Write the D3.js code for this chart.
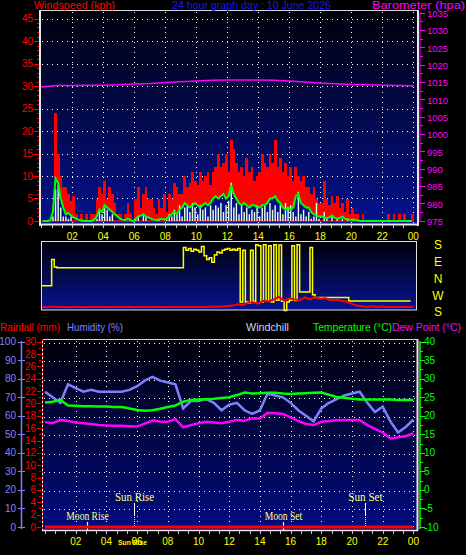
<!DOCTYPE html>
<html><head><meta charset="utf-8">
<script src="https://cdn.jsdelivr.net/npm/d3@7"></script>
<style>body{margin:0;background:#000;}svg{display:block;}</style>
</head><body>
<svg id="c" width="466" height="555"></svg>
<script>
// ---------------- DATA ----------------
// Wind, 10-minute intervals from 00:00 (144 values, kph)
const windGust = [0,0,0,0,3.5,24,15,10,7.5,7.5, 6,4.5,5.5,1.5,0,1.5,0,1.5,0,1.5, 1.5,5,7.5,6,9,5,7.5,6,4,1.5, 1.5,0,1.5,4,1.5,0,5,7.5,3,6, 7.5,5,5,3,1.5,5,3,6,2,6, 5,8.5,7.5,6,6,10,7.5,8.5,11,9, 8,11,9,10,11,8,11,12,15,12, 13,15,11,18,16,13,11,12,10,14, 11,12,9,10,11,15,13,12,15,13, 18,12,14,11,13,10,12,9,12,10, 9,10,7.5,7.5,6,7.5,5,4,4,9, 5,3.5,5.5,4,5.5,3,4,2,5,1.5, 3,1.5,1.5,0,1.5,0,0,0,0,0, 0,0,0,0,1.5,0,1.5,0,1.5,0, 1.5,0,0,1.5];
const windSpeed = [0,0,0,0,1,7,8,3,1,1, 0.5,1,0,0,0,0,0,0,0,0, 0,0.5,2.5,1.5,3,2.5,1,1.5,0,0, 0,0,0,0,0,0,0.5,1,0,1.5, 1,0,0,0,0,0.5,0,0,0.5,1.5, 1,2.5,1.5,3.5,1,3,3.5,2,4,3, 1.5,3.5,2.5,3,1,3.5,2.5,3.5,3,4, 2,3.5,4.5,8.5,3,4,1.5,3.5,2,3, 1.5,2.5,2,3.5,1,3,3.5,2,4,2.5, 3.5,2,3.5,1.5,4,3,3.5,2,1,6.5, 1.5,2.5,1,2,0.5,1,4,0.5,0,2, 0.5,0,1,0,0.5,0,0.5,0,0.5,0, 0.5,0,0,0,0,0,0,0,0,0, 0,0,0,0,0,0,0,0,0,0, 0,0,0,0];
const windAvg = [0,0,0,0.2,2,9.5,8.5,5,3,1.5, 1.8,1.2,0.8,0.5,0.3,0.1,0,0,0,0, 0.3,1,2.5,2,3.5,3,2.5,2,1.5,1, 0.5,0.3,0.2,0.5,0.2,0,0.5,1,1.2,1.5, 1,0.8,0.5,0.3,0.2,0.3,0.5,0.3,0.5,1, 1.5,2,1.5,2.5,3,4,3.5,3,3.5,4, 3.5,3,3.5,4,3.5,4,5,5.5,5,5.5, 6,5,5.5,8,6,5,4,3.5,4,3.5, 3,3.5,3.5,3,3,3.5,3.5,4,5,5, 5.5,4.5,4,3,2.5,3,2.5,3,5.5,6, 4,3.5,3,3,2,1.5,1.2,1,1,0.8, 0.6,0.8,1.2,0.7,0.5,0.6,1,0.5,0.4,0.3, 0.3,0.2,0.1,0,0,0,0,0,0,0, 0,0,0,0,0,0,0,0,0,0, 0,0,0,0];
// Wind direction, degrees, 10-minute intervals
const windDir = [318,318,318,318,100,60,56,56,56,56, 56,56,56,56,56,56,56,56,56,56, 56,56,56,56,56,56,56,56,56,56, 56,56,56,56,56,56,56,56,56,56, 56,56,56,56,56,56,56,56,56,56, 56,56,56,56,56,165,150,160,145,155, 150,140,170,120,100,110,85,125,140,135, 150,155,160,150,155,150,160,230,150,230, 225,150,235,180,175,230,180,235,175,230, 180,240,178,235,185,230,240,175,238,180, 285,285,285,285,165,270,255,255,255,255, 255,255,255,255,255,255,255,255,255,236, 236,236,236,236,236,236,236,236,236,236, 236,236,236,236,236,236,236,236,236,236, 236,236,236,236];
// Red trace of the direction panel, 20-minute intervals
const dirPanelRed = [1.5,1.2,1.8,1.4,1.6,1.3,1.5,1.7,1.3,1.5, 1.4,1.6,1.5,1.3,1.7,1.4,1.5,1.6,1.3,1.5, 1.7,1.4,1.6,1.5,1.3,1.6,1.5,1.4,1.7,1.5, 1.4,1.6,1.5,1.8,1.6,1.9,2.2,2.5,3.5,3, 4.5,5,4,6,5.5,7,9,6,8,7, 6.5,8.5,7,9,7.5,8,6.5,7,6,5.5, 4,2.5,2,1.5,2,1.5,1.8,1.4,1.6,1.5, 1.7,1.5,1.6];
// Barometer, hourly (hPa)
const baro = [1013.6,1014.0,1014.0,1014.1,1014.1,1014.2,1014.4,1014.6,1014.9,1015.1,1015.3,1015.5,1015.6,1015.6,1015.6,1015.5,1015.3,1015.0,1014.7,1014.5,1014.3,1014.2,1014.1,1014.0,1013.9];
// Half-hourly series (49 values, 00:00 .. 24:00)
const humidity = [73,70,67,77,75,73,74,73,73,73, 73,74,76,79,81,79,78,77,64,68, 68,69,67,63,66,67,63,61,63,72, 71,70,67,63,60,57,64,67,69,71, 72,73,67,62,65,57,51,54,58];
const temperature = [23.6,23.8,24.3,22.8,22.7,22.6,22.6,22.5,22.5,22.4, 22.4,22.0,21.6,21.4,21.5,21.9,22.4,22.8,23.8,24.3, 24.4,24.5,24.6,24.8,25.0,25.6,26.3,26.0,26.1,26.2, 26.2,26.0,25.9,26.0,26.1,26.2,26.3,25.7,25.1,24.9, 24.6,24.4,24.4,24.4,24.4,24.4,24.3,24.3,24.3];
const dewPoint = [18.3,18.0,18.9,18.6,18.2,18.0,17.8,17.5,17.4,17.3, 17.3,17.2,17.1,17.9,18.7,18.5,18.4,19.1,16.9,17.5, 18.0,18.4,18.2,18.0,18.4,18.9,18.7,19.3,19.3,20.8, 20.7,20.5,19.6,18.6,17.8,17.5,18.4,18.6,18.8,18.9, 18.9,18.9,17.5,16.5,15.5,13.9,14.2,14.5,15.3];
const rainfall = [0,0,0,0,0,0,0,0,0,0,0,0,0,0,0,0,0,0,0,0,0,0,0,0,0];
// Axis tick values / labels
const hourLabels = ["02","04","06","08","10","12","14","16","18","20","22","00"];
const windTicks = [0,5,10,15,20,25,30,35,40,45];
const baroTicks = [975,980,985,990,995,1000,1005,1010,1015,1020,1025,1030,1035];
const dirLabels = ["S","E","N","W","S"];
const humTicks = [0,10,20,30,40,50,60,70,80,90,100];
const rainTicks = [0,2,4,6,8,10,12,14,16,18,20,22,24,26,28,30];
const tempTicks = [-10,-5,0,5,10,15,20,25,30,35,40];
const events = [{name:"Moon Rise",h:2.72,type:"moon"},{name:"Sun Rise",h:5.82,type:"sun"},{name:"Moon Set",h:15.53,type:"moon"},{name:"Sun Set",h:20.85,type:"sun"}];

// ---------------- DRAW ----------------
const svg = d3.select("#c");
const F = "Liberation Sans, Arial, sans-serif";
const defs = svg.append("defs");
function grad(id, c0, c1){
  const g = defs.append("linearGradient").attr("id",id).attr("x1",0).attr("x2",0).attr("y1",0).attr("y2",1);
  g.append("stop").attr("offset","0%").attr("stop-color",c0);
  g.append("stop").attr("offset","100%").attr("stop-color",c1);
}
grad("g1","#00000a","#04128e");
grad("g2","#00000a","#061490");
grad("g3","#00000a","#020c80");

function txt(x,y,s,col,opt={}){
  const t = svg.append("text").attr("x",x).attr("y",y).text(s).attr("fill",col)
    .attr("font-family",opt.family||F).attr("font-size",opt.size||10)
    .attr("text-anchor",opt.anchor||"start");
  if(opt.len){ t.attr("textLength",opt.len).attr("lengthAdjust","spacingAndGlyphs"); }
  if(opt.weight) t.attr("font-weight",opt.weight);
  return t;
}

// ===== TOP PANEL =====
const xT = d3.scaleLinear().domain([0,24]).range([41.3,413.3]);
const yW = d3.scaleLinear().domain([0,45]).range([221,18.5]);
const yB = d3.scaleLinear().domain([975,1035]).range([220.7,12.7]);
svg.append("rect").attr("x",40).attr("y",10).attr("width",378).attr("height",214).attr("fill","url(#g1)");
const topG = svg.append("g");
topG.selectAll(".hg").data(windTicks.filter(d=>d>0)).join("line")
  .attr("x1",42).attr("x2",417).attr("y1",d=>Math.round(yW(d))+0.5).attr("y2",d=>Math.round(yW(d))+0.5)
  .attr("stroke","#fff").attr("stroke-dasharray","1,4");
topG.selectAll(".vg").data(d3.range(2,25,2)).join("line")
  .attr("x1",d=>Math.round(xT(d))+0.5).attr("x2",d=>Math.round(xT(d))+0.5).attr("y1",12).attr("y2",223)
  .attr("stroke","#fff").attr("stroke-dasharray","1,4");
const step10 = 1/6;
topG.append("line").attr("x1",xT(0)).attr("x2",xT(24)).attr("y1",yW(0)).attr("y2",yW(0)).attr("stroke","#f00").attr("stroke-width",1.5);
// gust bars span from the average up to the gust
topG.selectAll(".gust").data(windGust).join("rect")
  .attr("x",(d,i)=>xT(i*step10)).attr("width",(d,i)=>xT((i+1)*step10)-xT(i*step10)+0.2)
  .attr("y",d=>yW(d)).attr("height",(d,i)=>Math.max(0,yW(Math.min(windAvg[i],d))-yW(d)))
  .attr("fill","#ff0000").attr("shape-rendering","crispEdges");
topG.selectAll(".spd").data(windSpeed).join("rect")
  .attr("x",(d,i)=>xT((i+0.25)*step10)).attr("width",(d,i)=>(xT(step10)-xT(0))*0.55)
  .attr("y",d=>yW(d)).attr("height",d=>yW(0)-yW(d)).attr("fill","#e4ffe4");
topG.append("path").datum(windAvg)
  .attr("d",d3.line().x((d,i)=>xT((i+0.5)*step10)).y(d=>yW(d)))
  .attr("fill","none").attr("stroke","#00ff00").attr("stroke-width",2);
topG.append("path").datum(baro)
  .attr("d",d3.line().x((d,i)=>xT(i)).y(d=>yB(d)))
  .attr("fill","none").attr("stroke","#ff00ff").attr("stroke-width",1.5);
svg.append("line").attr("x1",40).attr("x2",419).attr("y1",10.5).attr("y2",10.5).attr("stroke","#d8d8d8");
svg.append("line").attr("x1",40).attr("x2",40).attr("y1",10).attr("y2",226).attr("stroke","#e8e8e8").attr("stroke-width",2);
svg.append("line").attr("x1",418).attr("x2",418).attr("y1",10).attr("y2",226).attr("stroke","#e8e8e8").attr("stroke-width",2);
svg.append("line").attr("x1",39).attr("x2",419).attr("y1",224.5).attr("y2",224.5).attr("stroke","#e8e8e8").attr("stroke-width",2);
svg.selectAll(".wmin").data(d3.range(0,46,1)).join("line")
  .attr("x1",d=>d%5===0?34:37).attr("x2",39).attr("y1",d=>Math.round(yW(d))+0.5).attr("y2",d=>Math.round(yW(d))+0.5)
  .attr("stroke","#ff0000");
windTicks.forEach(d=>txt(33,yW(d)+3.5,String(d),"#ff0000",{anchor:"end",size:10}));
svg.append("line").attr("x1",420).attr("x2",420).attr("y1",12).attr("y2",222).attr("stroke","#ff00ff");
svg.selectAll(".bmin").data(d3.range(975,1036,2.5)).join("line")
  .attr("x1",420).attr("x2",d=>d%5===0?425:423).attr("y1",d=>Math.round(yB(d))+0.5).attr("y2",d=>Math.round(yB(d))+0.5)
  .attr("stroke","#ff00ff");
baroTicks.forEach(d=>txt(427,yB(d)+4.3,String(d),"#ff00ff",{size:9.5}));
svg.selectAll(".tt").data(d3.range(0,36)).join("line")
  .attr("x1",d=>Math.round(xT(d*2/3))+0.5).attr("x2",d=>Math.round(xT(d*2/3))+0.5).attr("y1",225).attr("y2",228)
  .attr("stroke","#c8c8c8");
hourLabels.forEach((s,i)=>txt(xT((i+1)*2),240,s,"#ffff00",{anchor:"middle",size:10}));

txt(34,8.6,"Windspeed (kph)","#ff0000",{size:10,len:81});
txt(172,8.6,"24 hour graph day : 10 June 2026","#1414ff",{size:10,len:159});
txt(372,8.6,"Barometer (hpa)","#ff00ff",{size:10,len:93});

// ===== DIRECTION PANEL =====
const yD = d3.scaleLinear().domain([-180,180]).range([311.3,244.7]);
const yDR = d3.scaleLinear().domain([0,50]).range([309,241]);
svg.append("rect").attr("x",41).attr("y",241).attr("width",376).attr("height",69).attr("fill","url(#g2)");
svg.append("path").datum(windDir)
  .attr("d",d3.line().curve(d3.curveStepAfter).x((d,i)=>xT(i*step10)).y(d=>yD(d>180?d-360:d)))
  .attr("fill","none").attr("stroke","#ffff00").attr("stroke-width",1.5);
svg.append("path").datum(dirPanelRed)
  .attr("d",d3.line().x((d,i)=>xT(i/3)).y(d=>yDR(d)))
  .attr("fill","none").attr("stroke","#ff0000").attr("stroke-width",2);
svg.append("rect").attr("x",41.5).attr("y",241.5).attr("width",375).attr("height",68.5).attr("fill","none").attr("stroke","#e0e0e0");
dirLabels.forEach((s,i)=>txt(438,[249,266,283,300,316][i],s,"#ffff00",{anchor:"middle",size:12}));

// ===== BOTTOM PANEL =====
const xB = d3.scaleLinear().domain([0,24]).range([45,413.4]);
const yH = d3.scaleLinear().domain([0,100]).range([527,341.7]);
const yR = d3.scaleLinear().domain([0,30]).range([527,341.7]);
const yTp = d3.scaleLinear().domain([-10,40]).range([527,341.7]);
svg.append("rect").attr("x",42).attr("y",339).attr("width",375).attr("height",191).attr("fill","url(#g3)");
const bot = svg.append("g");
bot.selectAll(".hg").data(humTicks.filter(d=>d>0)).join("line")
  .attr("x1",44).attr("x2",416).attr("y1",d=>Math.round(yH(d))+1.5).attr("y2",d=>Math.round(yH(d))+1.5)
  .attr("stroke","#fff").attr("stroke-dasharray","1,4");
bot.selectAll(".vg").data(d3.range(2,25,2)).join("line")
  .attr("x1",d=>Math.round(xB(d))+0.5).attr("x2",d=>Math.round(xB(d))+0.5).attr("y1",341).attr("y2",529)
  .attr("stroke","#fff").attr("stroke-dasharray","1,4");
events.forEach(e=>{
  const x = Math.round(xB(e.h))+0.5;
  if(e.type==="sun"){
    bot.append("line").attr("x1",x).attr("x2",x).attr("y1",503).attr("y2",515).attr("stroke","#fff");
    bot.append("line").attr("x1",x).attr("x2",x).attr("y1",515).attr("y2",528).attr("stroke","#ffff60").attr("stroke-dasharray","1,1");
    txt(x,501,e.name,"#ffff80",{anchor:"middle",size:12,family:"Liberation Serif, serif",len:e.name.length*4.9});
  } else {
    bot.append("line").attr("x1",x).attr("x2",x).attr("y1",522).attr("y2",530).attr("stroke","#fff").attr("stroke-width",1.2);
    txt(x,520,e.name,"#ffff80",{anchor:"middle",size:12,family:"Liberation Serif, serif",len:e.name.length*4.7});
  }
});
const half = (d,i)=>xB(i*0.5);
bot.append("path").datum(humidity).attr("d",d3.line().x(half).y(d=>yH(d)))
  .attr("fill","none").attr("stroke","#8080ff").attr("stroke-width",2.5);
bot.append("path").datum(temperature).attr("d",d3.line().x(half).y(d=>yTp(d)))
  .attr("fill","none").attr("stroke","#00ff00").attr("stroke-width",2.5);
bot.append("path").datum(dewPoint).attr("d",d3.line().x(half).y(d=>yTp(d)))
  .attr("fill","none").attr("stroke","#ff00ff").attr("stroke-width",2.5);
bot.append("path").datum(rainfall).attr("d",d3.line().x((d,i)=>xB(i)).y(d=>yR(d)))
  .attr("fill","none").attr("stroke","#ff0000").attr("stroke-width",3);
svg.append("line").attr("x1",42).attr("x2",418).attr("y1",339.5).attr("y2",339.5).attr("stroke","#d0d0d0");
svg.append("line").attr("x1",417.5).attr("x2",417.5).attr("y1",339).attr("y2",531).attr("stroke","#e8e8e8").attr("stroke-width",2);
svg.append("line").attr("x1",42).attr("x2",418).attr("y1",530.5).attr("y2",530.5).attr("stroke","#e8e8e8").attr("stroke-width",1.5);
svg.append("line").attr("x1",42.5).attr("x2",42.5).attr("y1",339).attr("y2",531).attr("stroke","#ffffff");
svg.append("line").attr("x1",42.5).attr("x2",42.5).attr("y1",339).attr("y2",531).attr("stroke","#ff0000").attr("stroke-dasharray","2,2");
svg.selectAll(".rt").data(d3.range(0,31,1)).join("line")
  .attr("x1",d=>d%2===0?37:39).attr("x2",41).attr("y1",d=>Math.round(yR(d))+0.5).attr("y2",d=>Math.round(yR(d))+0.5)
  .attr("stroke","#ff0000");
rainTicks.forEach(d=>txt(36,yR(d)+3.5,String(d),"#ff0000",{anchor:"end",size:10}));
svg.append("line").attr("x1",21.5).attr("x2",21.5).attr("y1",341).attr("y2",529).attr("stroke","#8080ff").attr("stroke-width",1.5);
svg.selectAll(".ht").data(humTicks).join("line")
  .attr("x1",18).attr("x2",25).attr("y1",d=>Math.round(yH(d))+0.5).attr("y2",d=>Math.round(yH(d))+0.5)
  .attr("stroke","#8080ff");
humTicks.forEach(d=>txt(16,yH(d)+3.5,String(d),"#8080ff",{anchor:"end",size:10}));
svg.append("line").attr("x1",420).attr("x2",420).attr("y1",341).attr("y2",529).attr("stroke","#00ff00").attr("stroke-width",1.5);
svg.selectAll(".tt2").data(d3.range(-10,40.1,2.5)).join("line")
  .attr("x1",420).attr("x2",d=>d%5===0?425:423).attr("y1",d=>Math.round(yTp(d))+0.5).attr("y2",d=>Math.round(yTp(d))+0.5)
  .attr("stroke","#00ff00");
tempTicks.forEach(d=>txt(424,yTp(d)+3.5,String(d),"#00ff00",{size:10}));
svg.selectAll(".bt").data(d3.range(0,37)).join("line")
  .attr("x1",d=>Math.round(xB(d*2/3))+0.5).attr("x2",d=>Math.round(xB(d*2/3))+0.5).attr("y1",531).attr("y2",534)
  .attr("stroke","#c8c8c8");
hourLabels.forEach((s,i)=>txt(xB((i+1)*2),545,s,"#ffff00",{anchor:"middle",size:10}));
txt(118,545,"Sun Rise","#ffff00",{size:8,weight:"bold",len:29});

txt(0,331,"Rainfall (mm)","#ff0000",{size:11,len:60});
txt(67,331,"Humidity (%)","#8080ff",{size:11,len:56});
txt(246,331,"Windchill","#c8d4ff",{size:11,len:43});
txt(313,331,"Temperature (°C)","#00ff00",{size:11,len:79});
txt(392,331,"Dew Point (°C)","#ff00ff",{size:11,len:69});
</script>
</body></html>
